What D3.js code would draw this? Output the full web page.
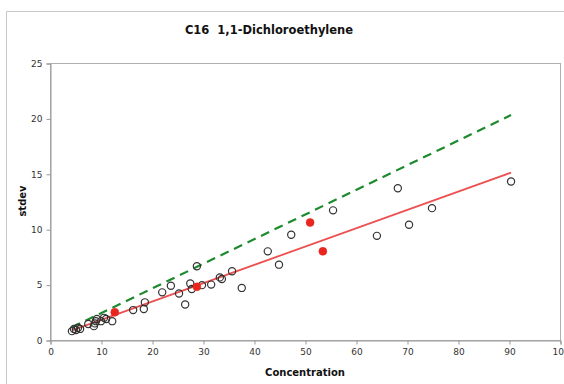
<!DOCTYPE html>
<html><head><meta charset="utf-8">
<script src="https://cdn.jsdelivr.net/npm/d3@7"></script>
<style>body{margin:0;background:#fff}svg{display:block}</style>
</head><body>
<svg id="c" width="564" height="384"></svg>
<script>
const title = "C16  1,1-Dichloroethylene";
const xLabel = "Concentration";
const yLabel = "stdev";
const xTicks = [0,10,20,30,40,50,60,70,80,90,100];
const yTicks = [0,5,10,15,20,25];
// open circles: concentration, stdev
const openConc = [4.3,4.7,5.1,5.5,5.9,7.5,8.6,8.8,9.0,9.2,10.0,10.6,11.0,12.2,16.3,18.4,18.6,22.0,23.7,25.3,26.5,27.5,27.8,28.8,29.8,31.6,33.3,33.7,35.7,37.6,42.7,44.9,47.3,55.5,64.1,68.2,70.4,74.9,90.4];
const openSd   = [0.8,1.0,0.9,1.1,1.0,1.45,1.25,1.5,1.7,1.9,1.7,2.0,1.9,1.7,2.7,2.8,3.4,4.3,4.9,4.2,3.2,5.1,4.6,6.65,4.95,5.0,5.65,5.5,6.2,4.7,8.0,6.8,9.5,11.7,9.4,13.7,10.4,11.9,14.3];
// filled red points
const redConc = [12.7,28.8,51.0,53.5];
const redSd   = [2.5,4.8,10.6,8.0];
// fit lines (endpoints)
const redLineX = [4.3,90.4];
const redLineY = [0.87,15.1];
const greenLineX = [4.3,90.4];
const greenLineY = [1.15,20.3];

const svg = d3.select("#c");
const L=50,R=560,T=63,B=340;
const x = d3.scaleLinear().domain([0,100]).range([L,R]);
const y = d3.scaleLinear().domain([0,25]).range([B,T]);

// outer frame
svg.append("path").attr("d","M6.5,384 V11.5 H564").attr("fill","none").attr("stroke","#c8c8c8").attr("stroke-width",1);

// plot border
svg.append("rect").attr("x",L+0.5).attr("y",T+0.5).attr("width",R-L).attr("height",B-T)
  .attr("fill","none").attr("stroke","#b0b0b0").attr("stroke-width",1);

const font = "DejaVu Sans, Verdana, sans-serif";
const xAxis = svg.append("g").attr("transform",`translate(0.5,${B+0.5})`)
  .call(d3.axisBottom(x).tickValues(xTicks).tickSize(4).tickPadding(4));
const yAxis = svg.append("g").attr("transform",`translate(${L+0.5},0.5)`)
  .call(d3.axisLeft(y).tickValues(yTicks).tickSize(4).tickPadding(4));
[xAxis,yAxis].forEach(a=>{
  a.select(".domain").attr("stroke","#999");
  a.selectAll(".tick line").attr("stroke","#999");
  a.selectAll(".tick text").attr("fill","#333").attr("font-family",font).attr("font-size",9);
});

const line = d3.line().x(d=>x(d[0])).y(d=>y(d[1]));
svg.append("path").datum(greenLineX.map((v,i)=>[v,greenLineY[i]]))
  .attr("d",line).attr("fill","none").attr("stroke","#1e8a2e").attr("stroke-width",2.2).attr("stroke-dasharray","9,6");
svg.append("path").datum(redLineX.map((v,i)=>[v,redLineY[i]]))
  .attr("d",line).attr("fill","none").attr("stroke","#ec5050").attr("stroke-width",1.8);

svg.append("g").selectAll("circle").data(openConc.map((v,i)=>[v,openSd[i]])).join("circle")
  .attr("cx",d=>x(d[0])).attr("cy",d=>y(d[1])).attr("r",3.6)
  .attr("fill","none").attr("stroke","#333").attr("stroke-width",1.2);
svg.append("g").selectAll("circle").data(redConc.map((v,i)=>[v,redSd[i]])).join("circle")
  .attr("cx",d=>x(d[0])).attr("cy",d=>y(d[1])).attr("r",4)
  .attr("fill","#e8261e").attr("stroke","#e8261e").attr("stroke-width",0.5);

svg.append("text").attr("x",269).attr("y",34).attr("text-anchor","middle").style("white-space","pre")
  .attr("font-family",font).attr("font-weight","bold").attr("font-size",11.5).attr("fill","#111").text(title);
svg.append("text").attr("x",305).attr("y",376).attr("text-anchor","middle")
  .attr("font-family",font).attr("font-weight","bold").attr("font-size",10).attr("fill","#111").text(xLabel);
svg.append("text").attr("transform","translate(26,201) rotate(-90)").attr("text-anchor","middle")
  .attr("font-family",font).attr("font-weight","bold").attr("font-size",10).attr("fill","#111").text(yLabel);
</script>
</body></html>
